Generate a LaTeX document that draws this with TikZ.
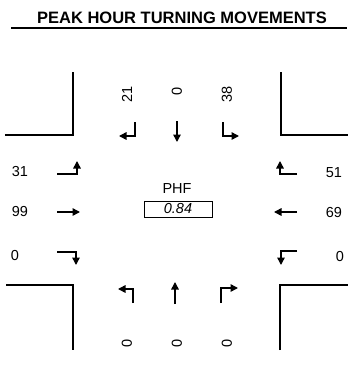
\documentclass[tikz,border=0pt]{standalone}
\usepackage{fontspec}
\setmainfont{Liberation Sans}
\usetikzlibrary{arrows.meta}
\begin{document}
\begin{tikzpicture}[x=1pt,y=-1pt,
  mv/.style={line width=1.5pt,-{Triangle[length=7.5pt,width=7.5pt]}},
  curb/.style={line width=2pt},
  num/.style={font=\fontsize{14.5}{16}\selectfont,inner sep=0pt},
  vnum/.style={num,rotate=90}]
\useasboundingbox (0,0) rectangle (352,376);
% title
\node[font=\fontsize{16.5}{19}\selectfont\bfseries,inner sep=0pt] (title) at (182,18) {PEAK HOUR TURNING MOVEMENTS};
\draw[line width=1.5pt] (11,28) coordinate (ul1) -- (347,28) coordinate (ul2);
% curbs
\draw[curb] (5,135) -- (73,135) -- (73,72);
\draw[curb] (281,72) -- (281,135) -- (348,135);
\draw[curb] (6,285) -- (73,285) -- (73,350);
\draw[curb] (280,350) -- (280,285) -- (348,285);
% top (southbound)
\node[vnum] (n21) at (127,94) {21};
\node[vnum] (n0t) at (177,91) {0};
\node[vnum] (n38) at (227,94) {38};
\draw[mv] (135,122) -- (135,136) -- (119,136);
\draw[mv] (177,121) -- (177,142);
\draw[mv] (223,122) -- (223,136) -- (239,136);
% left (eastbound)
\node[num] (n31) at (20,172) {31};
\node[num] (n99) at (20,212) {99};
\node[num] (n0l) at (15,256) {0};
\draw[mv] (57,174) -- (77,174) -- (77,161);
\draw[mv] (57,212) -- (80,212);
\draw[mv] (57,252) -- (76,252) -- (76,265);
% right (westbound)
\node[num] (n51) at (334,173) {51};
\node[num] (n69) at (334,213) {69};
\node[num] (n0r) at (340,257) {0};
\draw[mv] (297,174) -- (280,174) -- (280,161);
\draw[mv] (297,212) -- (274,212);
\draw[mv] (297,251) -- (281,251) -- (281,265);
% bottom (northbound)
\draw[mv] (133,303) -- (133,289) -- (118,289);
\draw[mv] (175,304) -- (175,282);
\draw[mv] (221,303) -- (221,288) -- (238,288);
\node[vnum] (n0b1) at (127,343) {0};
\node[vnum] (n0b2) at (177,343) {0};
\node[vnum] (n0b3) at (227,343) {0};
% PHF
\node[num] (phf) at (177,189) {PHF};
\node[draw,line width=0.9pt,minimum width=68pt,minimum height=16pt,inner sep=0pt,font=\fontsize{14.5}{16}\selectfont\itshape] (pv) at (178,209) {0.84};
\end{tikzpicture}
\end{document}
